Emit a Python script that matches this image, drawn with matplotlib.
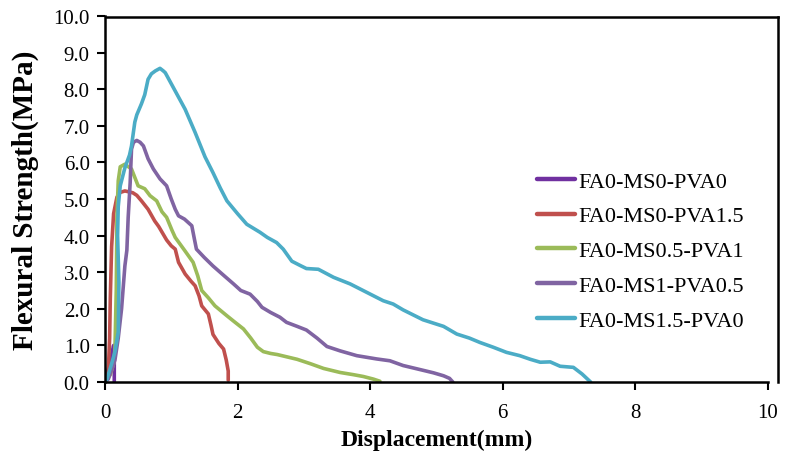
import matplotlib
matplotlib.use("Agg")
import matplotlib.pyplot as plt
from matplotlib.lines import Line2D

plt.rcParams['font.family'] = ['Liberation Serif', 'DejaVu Serif']

labels = ["FA0-MS0-PVA0", "FA0-MS0-PVA1.5", "FA0-MS0.5-PVA1", "FA0-MS1-PVA0.5", "FA0-MS1.5-PVA0"]
colors = ["#7030A0", "#C0504D", "#9BBB59", "#8064A2", "#4BACC6"]

x_ms0_pva0 = [0, 0.05, 0.10, 0.13, 0.14, 0.14]
y_ms0_pva0 = [0, 0.35, 0.75, 1.0, 0.8, 0]

x_ms0_pva15 = [0, 0.05, 0.07, 0.08, 0.09, 0.10, 0.13, 0.18, 0.23, 0.30, 0.35, 0.42, 0.48, 0.55, 0.65, 0.75,
               0.81, 0.93, 1.00, 1.06, 1.11, 1.21, 1.30, 1.36, 1.42, 1.46, 1.56, 1.60, 1.63, 1.72, 1.79, 1.83,
               1.86, 1.86]
y_ms0_pva15 = [0, 0.3, 1.2, 2.3, 3.0, 3.7, 4.6, 5.05, 5.18, 5.22, 5.2, 5.17, 5.1, 4.95, 4.72, 4.4,
               4.25, 3.88, 3.72, 3.63, 3.27, 2.95, 2.75, 2.63, 2.35, 2.08, 1.86, 1.55, 1.3, 1.05, 0.9, 0.6,
               0.3, 0.05]

x_ms05_pva1 = [0, 0.08, 0.13, 0.15, 0.17, 0.18, 0.20, 0.23, 0.30, 0.40, 0.50, 0.60, 0.68, 0.78, 0.86, 0.93,
               1.01, 1.06, 1.20, 1.33, 1.40, 1.46, 1.56, 1.66, 1.84, 1.95, 2.09, 2.20, 2.30, 2.39, 2.50, 2.60,
               2.90, 3.10, 3.30, 3.55, 3.75, 3.90, 4.05, 4.15]
y_ms05_pva1 = [0, 0.2, 0.5, 0.9, 2.5, 4.5, 5.5, 5.88, 5.95, 5.82, 5.36, 5.28, 5.09, 4.95, 4.65, 4.5,
               4.15, 3.95, 3.6, 3.27, 2.9, 2.5, 2.3, 2.08, 1.81, 1.65, 1.45, 1.2, 0.95, 0.83, 0.78, 0.75,
               0.62, 0.5, 0.37, 0.26, 0.2, 0.15, 0.08, 0.02]

x_ms1_pva05 = [0, 0.05, 0.15, 0.20, 0.25, 0.30, 0.33, 0.35, 0.38, 0.40, 0.43, 0.48, 0.53, 0.58, 0.65, 0.73,
               0.83, 0.93, 1.00, 1.06, 1.11, 1.20, 1.31, 1.35, 1.38, 1.50, 1.63, 1.80, 1.94, 2.05, 2.19, 2.30,
               2.37, 2.50, 2.64, 2.74, 2.90, 3.04, 3.20, 3.35, 3.55, 3.80, 4.10, 4.30, 4.50, 4.80, 4.96, 5.11,
               5.20, 5.25]
y_ms1_pva05 = [0, 0.08, 0.6, 1.2, 2.0, 3.17, 3.6, 4.5, 5.45, 6.36, 6.55, 6.6, 6.55, 6.45, 6.1, 5.82,
               5.55, 5.36, 5.0, 4.72, 4.54, 4.45, 4.27, 3.9, 3.63, 3.4, 3.17, 2.9, 2.68, 2.5, 2.4, 2.2,
               2.04, 1.9, 1.77, 1.63, 1.52, 1.42, 1.2, 0.97, 0.85, 0.72, 0.63, 0.58, 0.45, 0.32, 0.25, 0.17,
               0.1, 0.0]

x_ms15_pva0 = [0, 0.03, 0.10, 0.15, 0.20, 0.21, 0.19, 0.20, 0.23, 0.30, 0.33, 0.37, 0.40, 0.45, 0.48, 0.55,
               0.60, 0.65, 0.70, 0.76, 0.83, 0.88, 0.91, 1.03, 1.21, 1.36, 1.51, 1.63, 1.74, 1.84, 2.00, 2.14,
               2.34, 2.45, 2.59, 2.69, 2.82, 2.95, 3.04, 3.22, 3.45, 3.70, 3.95, 4.20, 4.35, 4.50, 4.80, 5.11,
               5.31, 5.50, 5.66, 5.86, 6.06, 6.26, 6.42, 6.57, 6.72, 6.87, 7.07, 7.20, 7.33]
y_ms15_pva0 = [0, 0.08, 0.5, 0.82, 1.36, 2.72, 4.0, 4.8, 5.36, 5.85, 6.0, 6.2, 6.45, 7.1, 7.3, 7.6,
               7.85, 8.27, 8.42, 8.5, 8.57, 8.5, 8.45, 8.05, 7.45, 6.82, 6.15, 5.72, 5.3, 4.95, 4.6, 4.31,
               4.09, 3.95, 3.81, 3.63, 3.3, 3.18, 3.1, 3.08, 2.86, 2.68, 2.45, 2.22, 2.13, 1.97, 1.7, 1.52,
               1.31, 1.2, 1.08, 0.95, 0.81, 0.72, 0.62, 0.54, 0.55, 0.43, 0.4, 0.22, 0.0]

xs = [x_ms0_pva0, x_ms0_pva15, x_ms05_pva1, x_ms1_pva05, x_ms15_pva0]
ys = [y_ms0_pva0, y_ms0_pva15, y_ms05_pva1, y_ms1_pva05, y_ms15_pva0]

x_ticks = [0, 2, 4, 6, 8, 10]
y_ticks = [0, 1, 2, 3, 4, 5, 6, 7, 8, 9, 10]

fig = plt.figure(figsize=(7.93, 4.64), dpi=100)
ax = fig.add_axes([105/793, 1 - 383/464, (767.5 - 105)/793, (383 - 17)/464])

for xv, yv, c, lab in zip(xs, ys, colors, labels):
    ax.plot(xv, yv, color=c, lw=2.6, label=lab, solid_joinstyle='round', solid_capstyle='round')

ax.set_xlim(0, 10)
ax.set_ylim(0, 10)
ax.set_xticks(x_ticks)
ax.set_yticks(y_ticks)
ax.set_xticklabels([str(v) for v in x_ticks])
ax.set_yticklabels([f"{v:.1f}" for v in y_ticks])
ax.tick_params(axis='both', direction='out', length=6, width=1.5, labelsize=15, colors='black')
ax.tick_params(axis='x', pad=9)
ax.tick_params(axis='y', pad=5)
for s in ['left', 'bottom']:
    ax.spines[s].set_linewidth(1.8)
ax.spines['top'].set_visible(False)
ax.spines['right'].set_visible(False)

# plot-area frame (top and right edges)
fig.add_artist(Line2D([106/793, 778/793], [1 - 17.5/464, 1 - 17.5/464], color='black', lw=1.8))
fig.add_artist(Line2D([778/793, 778/793], [1 - 17.5/464, 1 - 383/464], color='black', lw=1.8))

ax.set_xlabel("Displacement(mm)", fontsize=17, fontweight='bold', labelpad=5)
ax.set_ylabel("Flexural Strength(MPa)", fontsize=21, fontweight='bold', labelpad=10)

leg = ax.legend(loc='upper left', bbox_to_anchor=(537/793, 1 - 172/464), bbox_transform=fig.transFigure,
                frameon=False, fontsize=16, handlelength=1.7, handletextpad=0.15, labelspacing=0.64,
                borderpad=0, borderaxespad=0)
for h in leg.get_lines():
    h.set_linewidth(3.2)

fig.savefig("out.png", dpi=100)
